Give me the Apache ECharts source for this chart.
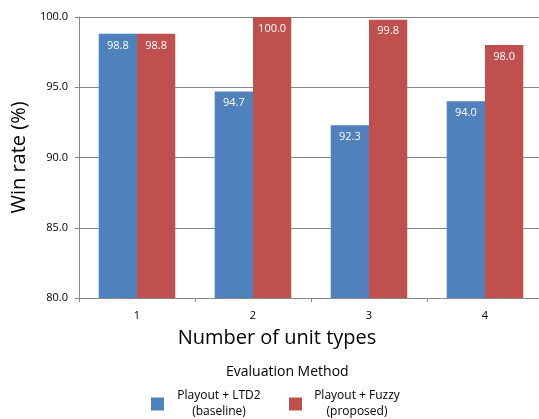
<!DOCTYPE html>
<html><head><meta charset="utf-8">
<script src="https://cdn.jsdelivr.net/npm/echarts@6/dist/echarts.min.js"></script>
<style>html,body{margin:0;padding:0;background:#fff}#c{width:539px;height:419px}</style>
</head><body><div id="c"></div>
<script>
const categories = ['1', '2', '3', '4'];
const baseline = [98.8, 94.7, 92.3, 94.0];
const proposed = [98.8, 100.0, 99.8, 98.0];
const seriesNames = ['Playout + LTD2\n(baseline)', 'Playout + Fuzzy\n(proposed)'];

const FONT = '"Open Sans", "Liberation Sans", sans-serif';
const chart = echarts.init(document.getElementById('c'), null, {renderer: 'canvas'});
const lbl = {show: true, position: 'insideTop', distance: 6, color: '#fff', fontSize: 11, fontFamily: FONT,
  formatter: p => p.value.toFixed(1)};
chart.setOption({
  animation: false,
  textStyle: {fontFamily: FONT},
  grid: {left: 79, top: 17, width: 464, bottom: 121, containLabel: false, outerBoundsMode: 'none'},
  xAxis: {
    type: 'category', data: categories,
    name: 'Number of unit types', nameLocation: 'middle', nameGap: 30,
    nameTextStyle: {fontSize: 20, color: '#000', fontFamily: FONT, padding: [0, 68, 0, 0]},
    axisLine: {lineStyle: {color: '#888'}},
    axisTick: {show: true, length: 4, lineStyle: {color: '#888'}},
    axisLabel: {color: '#000', fontSize: 11, margin: 12}
  },
  yAxis: {
    type: 'value', min: 80, max: 100, interval: 5,
    name: 'Win rate (%)', nameLocation: 'middle', nameGap: 47,
    nameTextStyle: {fontSize: 20, color: '#000', fontFamily: FONT},
    axisLine: {show: true, lineStyle: {color: '#888'}},
    axisTick: {show: true, length: 4, lineStyle: {color: '#888'}},
    axisLabel: {color: '#000', fontSize: 11, margin: 11, formatter: v => v.toFixed(1)},
    splitLine: {lineStyle: {color: '#888'}}
  },
  legend: {
    left: 151, top: 390, padding: 0, itemWidth: 13, itemHeight: 13, itemGap: 20,
    icon: 'rect',
    data: seriesNames,
    formatter: n => n.split('\n').map(s => '{a|' + s + '}').join('\n'),
    textStyle: {rich: {a: {width: 100, align: 'center', fontSize: 12, lineHeight: 16, color: '#000', fontFamily: FONT}}}
  },
  graphic: [{type: 'text', left: 226, top: 365, style: {text: 'Evaluation Method', fontSize: 14, fill: '#000', fontFamily: FONT}}],
  series: [
    {name: seriesNames[0], type: 'bar', data: baseline, barGap: '0%', barCategoryGap: '34%',
     itemStyle: {color: '#4F81BD'}, label: lbl},
    {name: seriesNames[1], type: 'bar', data: proposed,
     itemStyle: {color: '#C0504D'}, label: lbl}
  ]
});
</script></body></html>
